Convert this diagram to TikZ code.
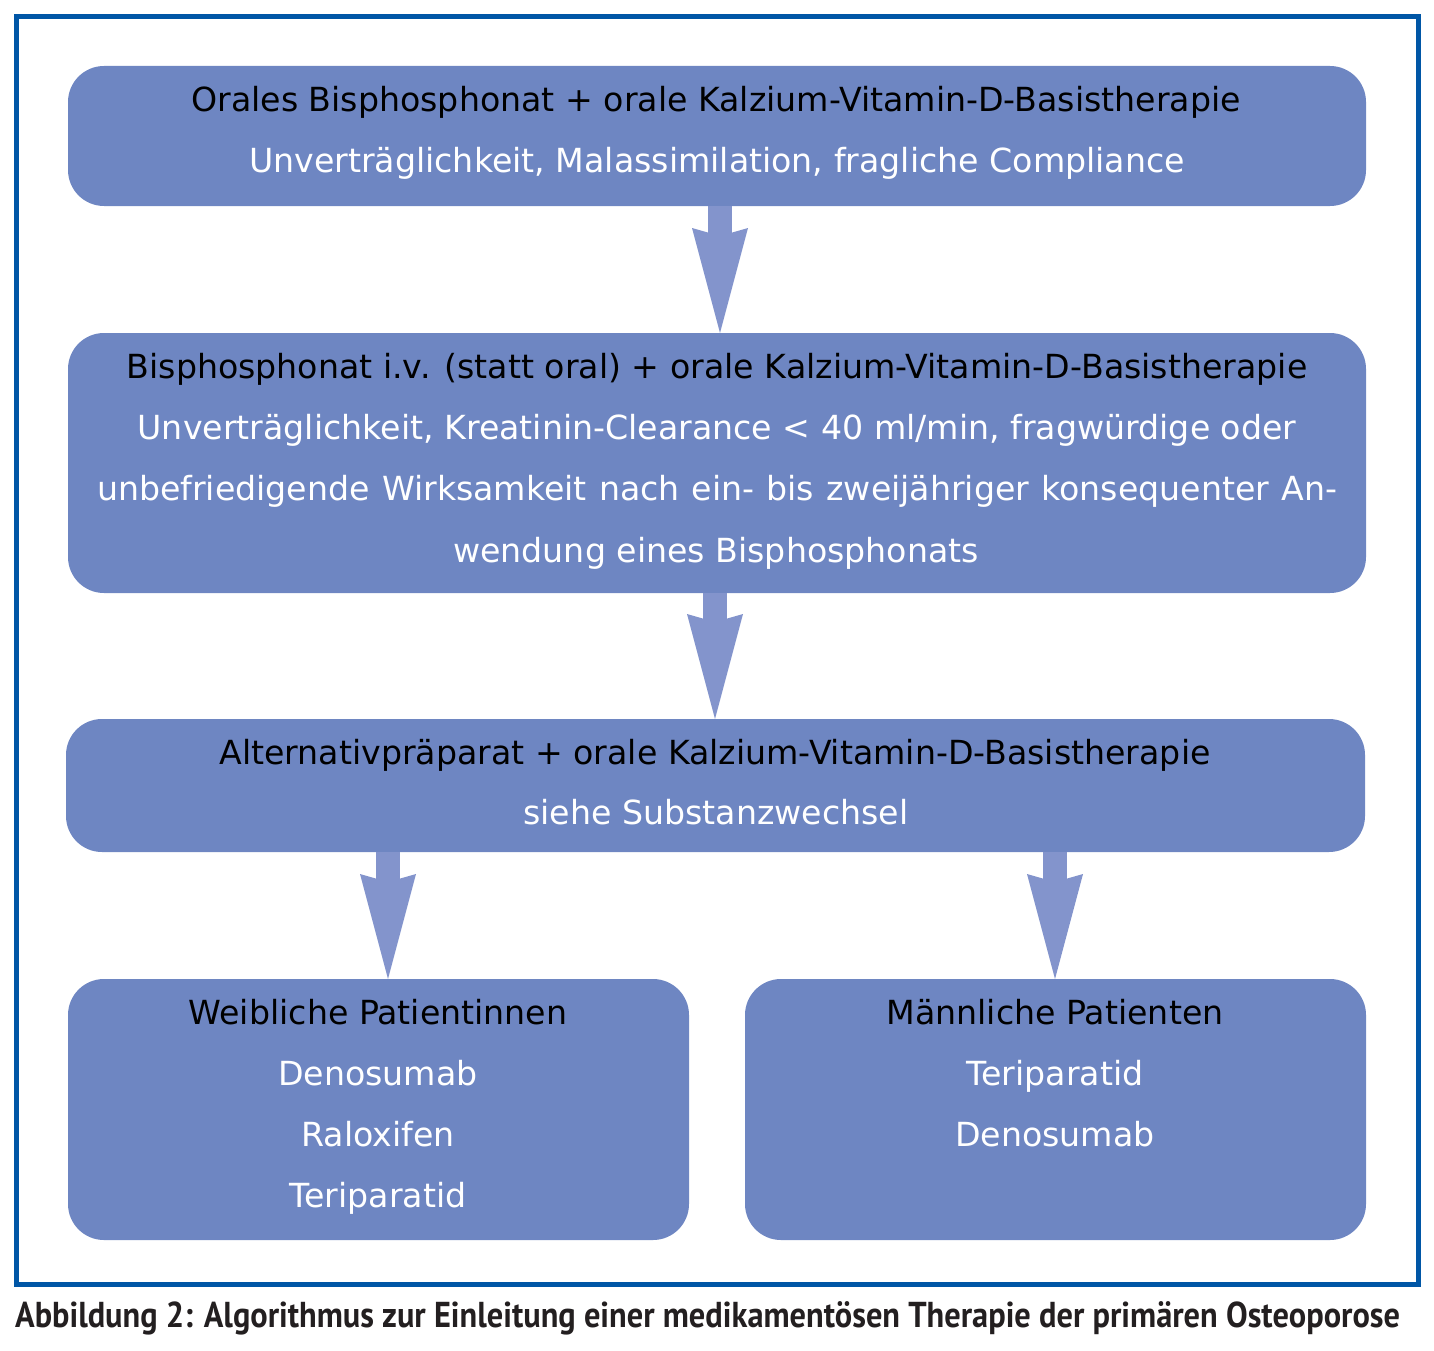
\documentclass[tikz,border=0pt]{standalone}
\usepackage{fontspec}
\setmainfont{DejaVu Sans}
\newfontfamily\capfont{PT Sans}
\usetikzlibrary{arrows.meta}
\definecolor{boxblue}{RGB}{110,134,194}
\definecolor{arrowblue}{RGB}{131,148,204}
\definecolor{frameblue}{RGB}{0,86,166}
\definecolor{captext}{RGB}{35,31,32}
\begin{document}
\begin{tikzpicture}[x=1pt,y=-1pt,
  box/.style={fill=boxblue, rounded corners=36pt, inner sep=0pt, outer sep=0pt, anchor=north west},
  head/.style={anchor=base, text=black, inner sep=0pt, font=\fontsize{33.2}{40}\selectfont},
  sub/.style={anchor=base, text=white, inner sep=0pt, font=\fontsize{33.2}{40}\selectfont},
  bigarrow/.style={draw=arrowblue, line width=24pt, -{Stealth[length=105pt,width=56pt,inset=8pt,line width=0pt,fill=arrowblue]}}]
\useasboundingbox (0,0) rectangle (1434,1351);
\draw[frameblue, line width=5pt] (16,17) rectangle (1418,1284);
% boxes
\node[box, minimum width=1298pt, minimum height=140pt] (b1) at (68,66) {};
\node[box, minimum width=1298pt, minimum height=260pt] (b2) at (68,333) {};
\node[box, minimum width=1299pt, minimum height=133pt] (b3) at (66,719) {};
\node[box, minimum width=621pt, minimum height=261pt] (b4) at (68,979) {};
\node[box, minimum width=621pt, minimum height=261pt] (b5) at (745,979) {};
% arrow columns
\coordinate (c1) at (720,0);
\coordinate (c2) at (715,0);
\coordinate (c3) at (388,0);
\coordinate (c4) at (1055,0);
\draw[bigarrow] (b1.south -| c1) -- (b2.north -| c1);
\draw[bigarrow] (b2.south -| c2) -- (b3.north -| c2);
\draw[bigarrow] (b3.south -| c3) -- (b4.north -| c3);
\draw[bigarrow] (b3.south -| c4) -- (b5.north -| c4);
% texts
\node[head] (t11) at (716,112) {Orales Bisphosphonat + orale Kalzium-Vitamin-D-Basistherapie};
\node[sub] (t12) at (717,173) {Unverträglichkeit, Malassimilation, fragliche Compliance};
\node[head] (t21) at (717,378) {Bisphosphonat i.v. (statt oral) + orale Kalzium-Vitamin-D-Basistherapie};
\node[sub] (t22) at (717,439) {Unverträglichkeit, Kreatinin-Clearance < 40 ml/min, fragwürdige oder};
\node[sub] (t23) at (717,500) {\makebox[1240pt][s]{unbefriedigende Wirksamkeit nach ein- bis zweijähriger konsequenter An-}};
\node[sub] (t24) at (716,562) {wendung eines Bisphosphonats};
\node[head] (t31) at (715,764) {Alternativpräparat + orale Kalzium-Vitamin-D-Basistherapie};
\node[sub] (t32) at (716,824) {siehe Substanzwechsel};
\node[head] (t41) at (378,1024) {Weibliche Patientinnen};
\node[sub] (t42) at (378,1085) {Denosumab};
\node[sub] (t43) at (378,1146) {Raloxifen};
\node[sub] (t44) at (378,1207) {Teriparatid};
\node[head] (t51) at (1055,1024) {Männliche Patienten};
\node[sub] (t52) at (1055,1085) {Teriparatid};
\node[sub] (t53) at (1055,1146) {Denosumab};
\node[anchor=base west, inner sep=0pt, text=captext, font=\capfont\bfseries\fontsize{36}{40}\selectfont] (cap) at (15,1327) {\scalebox{0.9}[1]{Abbildung 2: Algorithmus zur Einleitung einer medikamentösen Therapie der primären Osteoporose}};
\end{tikzpicture}
\end{document}
